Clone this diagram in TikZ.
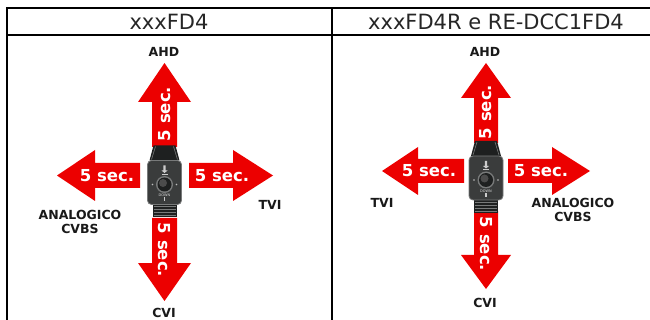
\documentclass[tikz,border=0pt]{standalone}
\usepackage{fontspec}
\setmainfont{DejaVu Sans}
\definecolor{arrowred}{RGB}{236,0,0}
\definecolor{devbody}{RGB}{58,60,60}
\definecolor{devedge}{RGB}{120,122,122}
\definecolor{devdark}{RGB}{30,32,32}
\tikzset{
  tablerule/.style={line width=2pt, black},
  heading/.style={font=\fontsize{21}{24}\selectfont, text=black!85, inner sep=0},
  blockarrow/.style={fill=arrowred, draw=none},
  arrowtext/.style={text=white, font=\bfseries\fontsize{16.5}{18}\selectfont, inner sep=0},
  modelabel/.style={font=\bfseries\fontsize{12.5}{14}\selectfont, align=center, inner sep=0, text=black!90},
  device/.pic={
    % cable neck
    \fill[devdark] (-11,-37) -- (11,-37) -- (15,-22) -- (-15,-22) -- cycle;
    \draw[devedge, line width=0.6pt] (-9,-36) -- (-13,-23) (9,-36) -- (13,-23);
    % connector ridges
    \fill[devdark] (-12,21) rectangle (12,35);
    \foreach \r in {24,27,30,33}
      \draw[devedge, line width=0.8pt] (-11,\r) -- (11,\r);
    % switch body
    \fill[devbody, draw=devedge, line width=0.8pt, rounded corners=4pt] (-17,-22) rectangle (17,22);
    % joystick button
    \fill[devedge] (0,2) circle (8.5);
    \fill[devdark] (0,2) circle (7);
    \fill[black!70] (-1.5,0.5) circle (4);
    % key markings
    \fill[black!20] (-1.2,-17) rectangle (1.2,-12) (-3,-12) -- (3,-12) -- (0,-9.5) -- cycle;
    \fill[black!20] (-3,-8.5) rectangle (3,-7.8);
    \fill[black!25] (-12,2) circle (0.8) (12,2) circle (0.8);
    \node[text=black!15, font=\fontsize{3.5}{4}\selectfont, inner sep=0] at (0,13) {DOWN};
    \fill[black!20] (-0.6,15) rectangle (0.6,19);
  }
}
\begin{document}
\begin{tikzpicture}[x=1pt,y=-1pt]
\useasboundingbox (0,0) rectangle (650,320);

% table frame
\draw[tablerule] (7,320) -- (7,8) -- (650,8);
\draw[tablerule] (7,35) -- (650,35);
\draw[tablerule] (332,8) -- (332,320);
\node[heading] (h1) at (169,22) {xxxFD4};
\node[heading] (h2) at (496,22) {xxxFD4R e RE-DCC1FD4};

% ---- left column: xxxFD4 ----
\fill[blockarrow] (152,147) -- (152,102) -- (138,102) -- (164.5,63) -- (191,102) -- (177,102) -- (177,147) -- cycle;
\fill[blockarrow] (152,218) -- (152,263) -- (138,263) -- (164.5,301) -- (191,263) -- (177,263) -- (177,218) -- cycle;
\fill[blockarrow] (140,163) -- (95,163) -- (95,150) -- (57,175.5) -- (95,201) -- (95,188) -- (140,188) -- cycle;
\fill[blockarrow] (189,163) -- (233,163) -- (233,150) -- (273,175.5) -- (233,201) -- (233,188) -- (189,188) -- cycle;
\pic at (164.5,182.5) {device};
\node[arrowtext, rotate=90] (a1u) at (164.5,114) {5 sec.};
\node[arrowtext, rotate=-90] (a1d) at (164.5,250) {5 sec.};
\node[arrowtext] (a1l) at (107,175.5) {5 sec.};
\node[arrowtext] (a1r) at (222,175.5) {5 sec.};
\node[modelabel] (l1u) at (164,52) {AHD};
\node[modelabel] (l1d) at (164,313) {CVI};
\node[modelabel] (l1l) at (80,222) {ANALOGICO\\CVBS};
\node[modelabel] (l1r) at (270,205) {TVI};

% ---- right column: xxxFD4R e RE-DCC1FD4 ----
\fill[blockarrow] (474,143) -- (474,98) -- (461,98) -- (486,63) -- (511,98) -- (498,98) -- (498,143) -- cycle;
\fill[blockarrow] (474,211) -- (474,255) -- (461,255) -- (486,289) -- (511,255) -- (498,255) -- (498,211) -- cycle;
\fill[blockarrow] (464,159) -- (418,159) -- (418,147) -- (382,171) -- (418,195) -- (418,183) -- (464,183) -- cycle;
\fill[blockarrow] (508,159) -- (552,159) -- (552,147) -- (590,171) -- (552,195) -- (552,183) -- (508,183) -- cycle;
\pic at (486,178) {device};
\node[arrowtext, rotate=90] (a2u) at (486,112) {5 sec.};
\node[arrowtext, rotate=-90] (a2d) at (486,244) {5 sec.};
\node[arrowtext] (a2l) at (429,171) {5 sec.};
\node[arrowtext] (a2r) at (541,171) {5 sec.};
\node[modelabel] (l2u) at (485,52) {AHD};
\node[modelabel] (l2d) at (485,303) {CVI};
\node[modelabel] (l2l) at (382,203) {TVI};
\node[modelabel] (l2r) at (573,210) {ANALOGICO\\CVBS};
\end{tikzpicture}
\end{document}
